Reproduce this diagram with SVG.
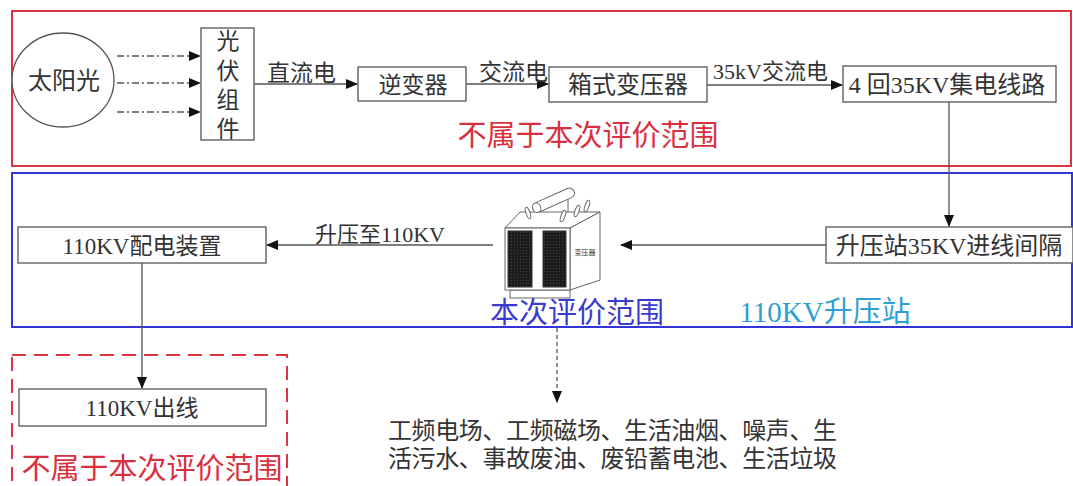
<svg xmlns="http://www.w3.org/2000/svg" width="1073" height="486" viewBox="0 0 1073 486">
  <style>
    .box { fill: #fff; stroke: #555; stroke-width: 1.3; }
    .txt { font-family: "Liberation Serif", "Noto Sans CJK SC", serif; fill: #333; }
    .lbl { font-size: 22px; }
    .red { fill: #d9303f; font-family: "Liberation Serif", "Noto Sans CJK SC", serif; }
    .wire { fill: none; stroke: #555; stroke-width: 1.3; }
  </style>
  <defs>
    <marker id="arr" markerWidth="12" markerHeight="10" refX="11" refY="5" orient="auto" markerUnits="userSpaceOnUse">
      <path d="M0,0 L12,5 L0,10 Z" fill="#111"/>
    </marker>
    <pattern id="fin" width="3" height="3" patternUnits="userSpaceOnUse">
      <rect width="3" height="3" fill="#1c1c1c"/>
      <rect x="1" y="1" width="1" height="1" fill="#444"/>
    </pattern>
  </defs>

  <rect width="1073" height="486" fill="#fff"/>

  <!-- region frames -->
  <g id="frames">
    <rect x="12" y="11" width="1059" height="155" fill="none" stroke="#d9343f" stroke-width="2"/>
    <rect x="12" y="173" width="1060" height="154" fill="none" stroke="#3434d6" stroke-width="2"/>
    <rect x="12" y="355" width="275" height="140" fill="none" stroke="#d9343f" stroke-width="2" stroke-dasharray="14 8"/>
  </g>

  <!-- connectors -->
  <g id="connectors">
    <path d="M117,56 H200" class="wire" stroke-dasharray="7 3 2 3" marker-end="url(#arr)"/>
    <path d="M117,83 H200" class="wire" stroke-dasharray="7 3 2 3" marker-end="url(#arr)"/>
    <path d="M117,112 H200" class="wire" stroke-dasharray="7 3 2 3" marker-end="url(#arr)"/>
    <path d="M254,84 H357" class="wire" marker-end="url(#arr)"/>
    <path d="M466,84 H548" class="wire" marker-end="url(#arr)"/>
    <path d="M707,85 H842" class="wire" marker-end="url(#arr)"/>
    <path d="M949,102 V226" class="wire" marker-end="url(#arr)"/>
    <path d="M826,245 H621" class="wire" marker-end="url(#arr)"/>
    <path d="M493,245 H267" class="wire" marker-end="url(#arr)"/>
    <path d="M142,263 V388" class="wire" marker-end="url(#arr)"/>
    <path d="M557,328 V402" class="wire" stroke-dasharray="4 3" marker-end="url(#arr)"/>
    <text x="267" y="81" class="txt" font-size="23">直流电</text>
    <text x="479" y="80" class="txt" font-size="23">交流电</text>
    <text x="713" y="79" class="txt lbl">35kV交流电</text>
    <text x="315" y="242" class="txt lbl">升压至110KV</text>
  </g>

  <g id="sun">
    <ellipse cx="63" cy="80" rx="51" ry="47" fill="#fff" stroke="#555" stroke-width="1.3"/>
    <text x="64" y="89" class="txt" font-size="24" text-anchor="middle">太阳光</text>
  </g>

  <g id="pv-module">
    <rect x="201" y="28" width="53" height="112" class="box"/>
    <g class="txt" font-size="23" text-anchor="middle">
      <text x="228" y="49">光</text>
      <text x="228" y="79">伏</text>
      <text x="228" y="108">组</text>
      <text x="228" y="137">件</text>
    </g>
  </g>

  <g id="inverter">
    <rect x="358" y="67" width="108" height="34" class="box"/>
    <text x="413" y="93" class="txt" font-size="23" text-anchor="middle">逆变器</text>
  </g>

  <g id="box-transformer">
    <rect x="549" y="67" width="158" height="35" class="box"/>
    <text x="628" y="93" class="txt" font-size="24" text-anchor="middle">箱式变压器</text>
  </g>

  <g id="collector-line">
    <rect x="843" y="66" width="213" height="36" class="box"/>
    <text x="947" y="93" class="txt" font-size="24" text-anchor="middle">4 回35KV集电线路</text>
  </g>

  <text x="588" y="146" class="red" font-size="29" text-anchor="middle">不属于本次评价范围</text>

  <g id="incoming-bay">
    <rect x="826" y="227" width="247" height="36" class="box"/>
    <text x="949" y="254" class="txt" font-size="24" text-anchor="middle">升压站35KV进线间隔</text>
  </g>

  <!-- main transformer pictogram -->
  <g id="main-transformer" stroke="#666" stroke-width="1">
    <rect x="510" y="290" width="60" height="8" fill="#fff"/>
    <path d="M505,228 L520,212 L600,212 L570,228 Z" fill="#fff"/>
    <path d="M570,228 L600,212 L600,280 L570,290 Z" fill="#fff"/>
    <rect x="505" y="228" width="65" height="62" fill="#fff"/>
    <rect x="508" y="231" width="24" height="56" fill="url(#fin)" stroke="#333"/>
    <rect x="543" y="231" width="23" height="56" fill="url(#fin)" stroke="#333"/>
    <path d="M537,212 L537,203 M568,212 L568,196" fill="none"/>
    <g transform="rotate(-24 554 200)">
      <rect x="532" y="195" width="44" height="10" rx="5" fill="#fff"/>
      <ellipse cx="535" cy="200" rx="4" ry="5" fill="#fff"/>
    </g>
    <g fill="#fff">
      <ellipse cx="528" cy="213" rx="2" ry="6" transform="rotate(-20 528 213)"/>
      <ellipse cx="563" cy="216" rx="2" ry="6" transform="rotate(20 563 216)"/>
      <ellipse cx="577" cy="211" rx="2" ry="6" transform="rotate(20 577 211)"/>
      <ellipse cx="587" cy="206" rx="2" ry="6" transform="rotate(20 587 206)"/>
    </g>
    <text x="585" y="255" font-size="7" fill="#333" stroke="none" text-anchor="middle" font-family="Noto Sans CJK SC, sans-serif">变压器</text>
  </g>

  <text x="577" y="323" font-family="Liberation Serif, Noto Sans CJK SC, serif" font-size="29" fill="#3a3ad0" text-anchor="middle">本次评价范围</text>
  <text x="825" y="322" font-family="Liberation Serif, Noto Sans CJK SC, serif" font-size="29" fill="#2ea0d2" text-anchor="middle">110KV升压站</text>

  <g id="distribution">
    <rect x="18" y="227" width="248" height="36" class="box"/>
    <text x="142" y="254" class="txt" font-size="23" text-anchor="middle">110KV配电装置</text>
  </g>

  <g id="outgoing-line">
    <rect x="19" y="389" width="247" height="37" class="box"/>
    <text x="142" y="416" class="txt" font-size="23" text-anchor="middle">110KV出线</text>
  </g>

  <text x="152" y="479" class="red" font-size="29" text-anchor="middle">不属于本次评价范围</text>

  <g id="impacts" class="txt" font-size="24">
    <text x="388" y="439" textLength="449" lengthAdjust="spacing">工频电场、工频磁场、生活油烟、噪声、生</text>
    <text x="388" y="467" textLength="449" lengthAdjust="spacing">活污水、事故废油、废铅蓄电池、生活垃圾</text>
  </g>
</svg>
